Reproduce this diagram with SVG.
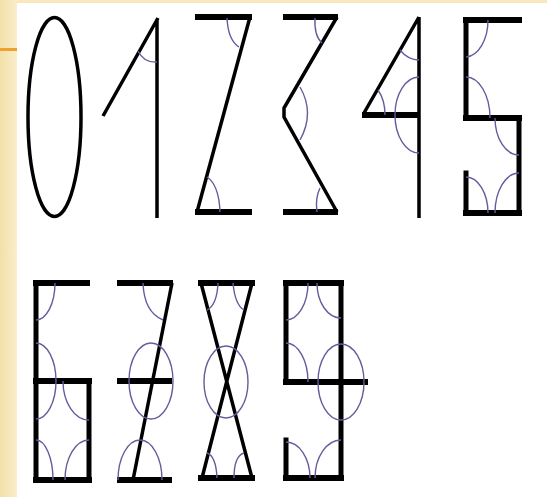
<svg xmlns="http://www.w3.org/2000/svg" width="547" height="497" viewBox="0 0 547 497">
<style>
.bar{stroke:#000;stroke-width:6;fill:none;stroke-linecap:butt}
.vt{stroke:#000;stroke-width:5;fill:none;stroke-linecap:square}
.ln{stroke:#000;stroke-width:3.5;fill:none;stroke-linecap:butt;stroke-linejoin:miter}
.arc{stroke:#6a5a9c;stroke-width:1.4;fill:none}
</style>
<defs>
<linearGradient id="side" x1="0" y1="0" x2="1" y2="0">
<stop offset="0" stop-color="#f3e0a8"/>
<stop offset="1" stop-color="#faeecb"/>
</linearGradient>
</defs>
<rect x="0" y="0" width="547" height="497" fill="#ffffff"/>
<rect x="0" y="0" width="547" height="3" fill="#f7e8bd"/>
<rect x="0" y="0" width="17" height="497" fill="url(#side)"/>
<rect x="0" y="48" width="17" height="3" fill="#f0a030"/>

<g id="digit0">
<ellipse cx="54.5" cy="117" rx="26.5" ry="99.5" class="ln"/>
</g>
<g id="digit1">
<path class="ln" d="M157,19 V218 M158,18 L103,116"/>
<path class="arc" d="M138,51 Q144,63 157,62"/>
</g>
<g id="digit2">
<path class="bar" d="M195,17 H252 M195,212 H252"/>
<path class="ln" d="M250,17 L197,212"/>
<path class="arc" d="M227,18 Q228,40 239,47 M207,177 Q219,185 220,212"/>
</g>
<g id="digit3">
<path class="bar" d="M283,17 H338 M283,212 H338"/>
<path class="ln" d="M337,17 L284,108 L284,117 L337,212"/>
<path class="arc" d="M315,18 Q314,36 322,43 M300,87 Q315,113 300,140 M320,188 Q315,198 317,212"/>
</g>
<g id="digit4">
<path class="ln" d="M419,17 V218 M419,17 L364,113"/>
<path class="bar" d="M362,115 H420"/>
<path class="arc" d="M400,50 Q408,60 419,60 M378,90 Q385,100 385,115 M419,77 A24,38 0 0 0 419,153"/>
</g>
<g id="digit5">
<path class="vt" d="M466,20 V118 M519,118 V213 M466,173 V213"/>
<path class="bar" d="M463,20 H522 M463,118 H522 M463,213 H522"/>
<path class="arc" d="M488,20 A23,37 0 0 1 466,57 M466,77 A24,41 0 0 1 490,118 M495,118 A24,37 0 0 0 519,155 M466,177 A22,36 0 0 1 488,213 M519,173 A24,40 0 0 0 495,213"/>
</g>
<g id="digit6">
<path class="vt" d="M36,283 V480 M89,381 V480"/>
<path class="bar" d="M33,283 H90 M33,381 H92 M33,480 H92"/>
<path class="arc" d="M55,283 A19,37 0 0 1 36,320 M36,343 A20,38 0 0 1 36,419 M63,381 A26,39 0 0 0 89,420 M36,440 A17,40 0 0 1 53,480 M89,440 A24,40 0 0 0 65,480"/>
</g>
<g id="digit7">
<path class="bar" d="M117,283 H173 M117,381 H172 M117,480 H172"/>
<path class="ln" d="M172,283 L133,480"/>
<ellipse class="arc" cx="151" cy="381" rx="22" ry="38"/>
<path class="arc" d="M143,283 Q144,312 163,320 M118,480 A22,40 0 0 1 162,480"/>
</g>
<g id="digit8">
<path class="bar" d="M198,283 H255 M198,478 H255"/>
<path class="ln" d="M201,283 L252,478 M252,283 L202,478"/>
<ellipse class="arc" cx="226" cy="382" rx="22" ry="36"/>
<path class="arc" d="M218,283 Q217,305 207,310 M233,283 Q235,305 244,310 M207,453 Q216,456 217,478 M244,453 Q234,456 234,478"/>
</g>
<g id="digit9">
<path class="vt" d="M286,283 V382 M341,283 V478 M286,440 V478"/>
<path class="bar" d="M283,283 H344 M283,382 H368 M283,478 H344"/>
<ellipse class="arc" cx="341" cy="382" rx="23" ry="38"/>
<path class="arc" d="M308,283 A22,37 0 0 1 286,320 M317,283 A24,35 0 0 0 341,318 M286,343 A22,39 0 0 1 308,382 M286,442 A24,36 0 0 1 310,478 M341,440 A26,38 0 0 0 315,478"/>
</g>
</svg>
